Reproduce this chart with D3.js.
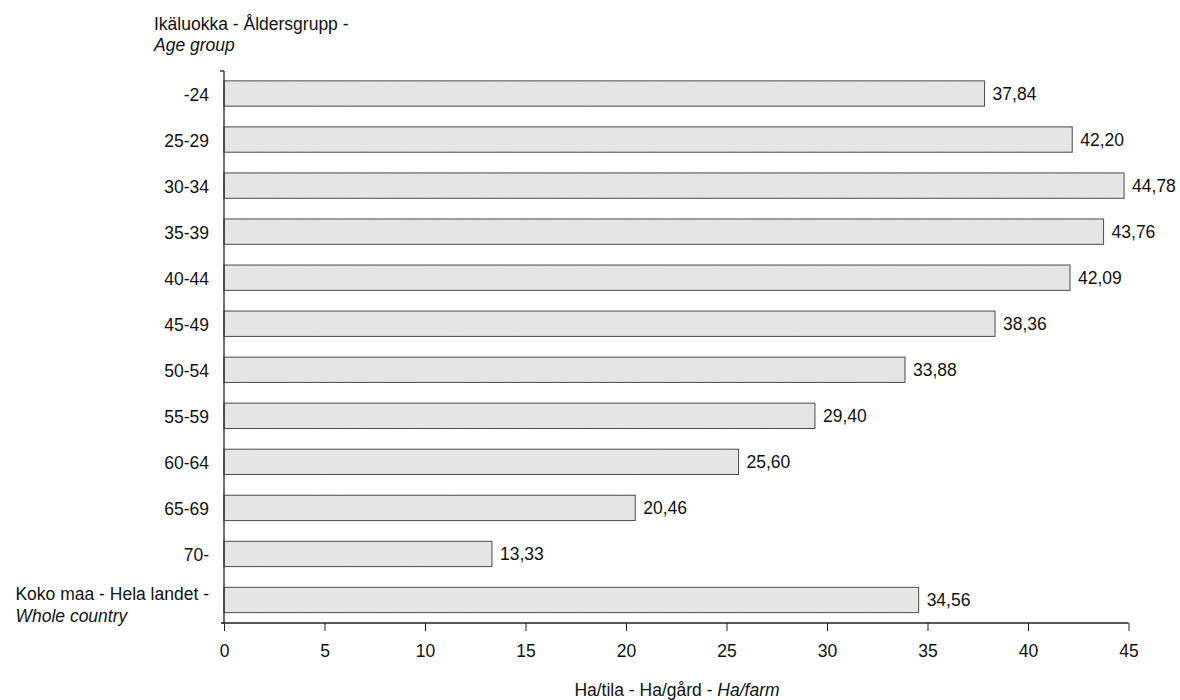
<!DOCTYPE html>
<html>
<head>
<meta charset="utf-8">
<script src="https://cdn.jsdelivr.net/npm/d3@7"></script>
<style>
  body { margin: 0; background: #fff; }
  svg text { font-family: "Liberation Sans", Arial, sans-serif; fill: #111; }
</style>
</head>
<body>
<svg id="chart" width="1180" height="700"></svg>
<script>
const categories = ["-24", "25-29", "30-34", "35-39", "40-44", "45-49", "50-54", "55-59", "60-64", "65-69", "70-", "Koko maa - Hela landet -|Whole country"];
const values = [37.84, 42.20, 44.78, 43.76, 42.09, 38.36, 33.88, 29.40, 25.60, 20.46, 13.33, 34.56];
const xTicks = [0, 5, 10, 15, 20, 25, 30, 35, 40, 45];
const yTitle = ["Ikäluokka - Åldersgrupp -", "Age group"];
const xTitle = ["Ha/tila - Ha/gård - ", "Ha/farm"];

(function () {
const svg = d3.select("#chart");
const fs = 17.5;
const mLeft = 224, mRight = 1128.5, mTop = 70.5, mBottom = 623;

const x = d3.scaleLinear().domain([0, 45]).range([mLeft, mRight]);
const y = d3.scaleBand().domain(categories).range([mTop, mBottom]).paddingInner(0.45).paddingOuter(0.225);

const fmt = v => d3.format(".2f")(v).replace(".", ",");

// subtle texture for bars
const defs = svg.append("defs");
const f = defs.append("filter").attr("id", "grain").attr("x", 0).attr("y", 0).attr("width", 1).attr("height", 1);
f.append("feTurbulence").attr("type", "fractalNoise").attr("baseFrequency", 0.9).attr("numOctaves", 1).attr("seed", 3).attr("result", "n");
f.append("feColorMatrix").attr("in", "n").attr("type", "matrix")
  .attr("values", "0 0 0 0 0.55  0 0 0 0 0.55  0 0 0 0 0.55  0 0 0 0.18 0").attr("result", "g");
f.append("feComposite").attr("in", "g").attr("in2", "SourceGraphic").attr("operator", "in").attr("result", "gc");
const fm = f.append("feMerge");
fm.append("feMergeNode").attr("in", "SourceGraphic");
fm.append("feMergeNode").attr("in", "gc");

// Bars
svg.append("g").selectAll("rect").data(values).join("rect")
  .attr("x", x(0))
  .attr("y", (d, i) => y(categories[i]))
  .attr("width", d => x(d) - x(0))
  .attr("height", y.bandwidth())
  .attr("fill", "#e8e8e8")
  .attr("filter", "url(#grain)");
svg.append("g").selectAll("rect").data(values).join("rect")
  .attr("x", x(0))
  .attr("y", (d, i) => y(categories[i]))
  .attr("width", d => x(d) - x(0))
  .attr("height", y.bandwidth())
  .attr("fill", "none")
  .attr("stroke", "#4a4a4a")
  .attr("stroke-width", 1);

// Value labels
svg.append("g").selectAll("text").data(values).join("text")
  .attr("x", d => x(d) + 8)
  .attr("y", (d, i) => y(categories[i]) + y.bandwidth() / 2 + 6.5)
  .attr("font-size", fs)
  .text(d => fmt(d));

// X axis
const xAxis = svg.append("g").attr("transform", `translate(0,${mBottom})`)
  .call(d3.axisBottom(x).tickValues(xTicks).tickSize(8).tickPadding(14).tickFormat(d => d));
xAxis.select(".domain").remove();
xAxis.selectAll(".tick line").attr("stroke", "#222");
xAxis.selectAll(".tick text").attr("font-size", fs).attr("font-family", "Liberation Sans, Arial, sans-serif").attr("fill", "#111");
svg.append("line").attr("x1", mLeft - 3).attr("x2", mRight).attr("y1", mBottom).attr("y2", mBottom)
  .attr("stroke", "#222").attr("stroke-width", 1.3);

// Y axis
svg.append("line").attr("x1", mLeft).attr("x2", mLeft).attr("y1", 71).attr("y2", mBottom + 1)
  .attr("stroke", "#222").attr("stroke-width", 1.3);
svg.append("line").attr("x1", mLeft - 4).attr("x2", mLeft).attr("y1", 71).attr("y2", 71)
  .attr("stroke", "#222").attr("stroke-width", 1.3);

// Category labels
const catG = svg.append("g");
categories.forEach(c => {
  const parts = c.split("|");
  const cy = y(c) + y.bandwidth() / 2;
  if (parts.length === 1) {
    catG.append("text").attr("x", 209).attr("y", cy + 7.5).attr("text-anchor", "end")
      .attr("font-size", fs).text(c);
  } else {
    const t1 = catG.append("text").attr("x", 209).attr("y", cy + 0.5).attr("text-anchor", "end")
      .attr("font-size", fs).text(parts[0]);
    const w = t1.node().getComputedTextLength();
    catG.append("text").attr("x", 209 - w).attr("y", cy + 22)
      .attr("font-size", fs).attr("font-style", "italic").text(parts[1]);
  }
});

// Y title
svg.append("text").attr("x", 154).attr("y", 29.5).attr("font-size", fs).text(yTitle[0]);
svg.append("text").attr("x", 154).attr("y", 50.5).attr("font-size", fs).attr("font-style", "italic").text(yTitle[1]);

// X title
const xt = svg.append("text").attr("x", 677).attr("y", 695.5).attr("text-anchor", "middle").attr("font-size", fs);
xt.append("tspan").text(xTitle[0]);
xt.append("tspan").attr("font-style", "italic").text(xTitle[1]);
})();
</script>
</body>
</html>
